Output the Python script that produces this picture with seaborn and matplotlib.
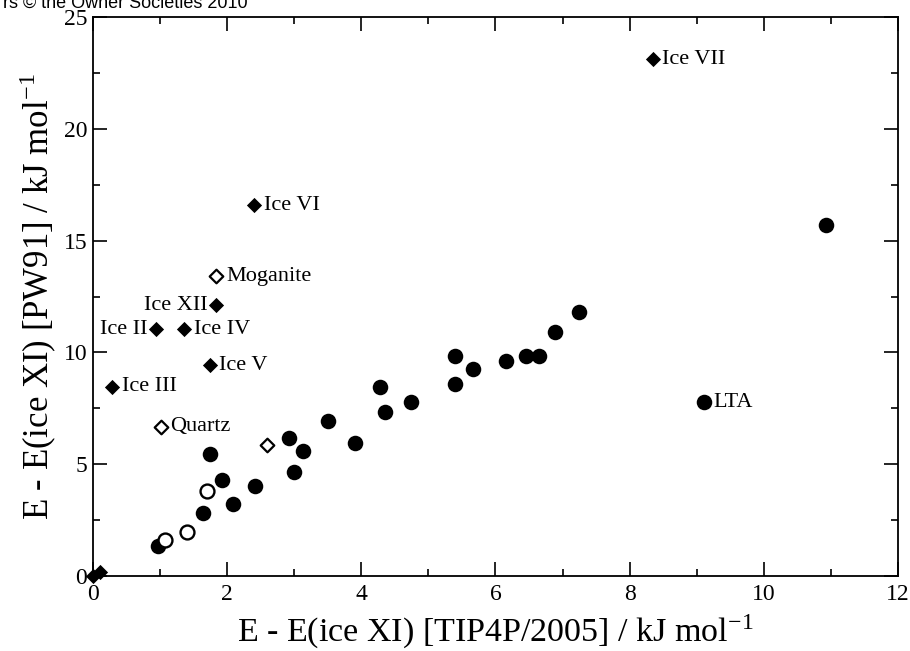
import pandas as pd
import seaborn as sns
import matplotlib
matplotlib.use("Agg")
from matplotlib import pyplot as plt
from matplotlib.ticker import MultipleLocator

# filled circles
circ_x = [0.97, 1.64, 1.74, 1.92, 2.09, 2.42, 2.93, 3.00, 3.13, 3.51, 3.91,
          4.28, 4.35, 4.74, 5.39, 5.39, 5.66, 6.16, 6.45, 6.65, 6.89, 7.25,
          9.10, 10.93]
circ_y = [1.36, 2.83, 5.46, 4.28, 3.23, 4.02, 6.16, 4.66, 5.59, 6.93, 5.96,
          8.47, 7.35, 7.78, 9.84, 8.60, 9.26, 9.63, 9.84, 9.84, 10.93, 11.79,
          7.78, 15.72]
# open circles
ocirc_x = [1.08, 1.41, 1.70]
ocirc_y = [1.61, 1.98, 3.80]
# filled diamonds (ice phases)
ice_x = [0.0, 0.10, 0.29, 0.94, 1.36, 1.74, 1.84, 2.40, 8.34]
ice_y = [0.0, 0.18, 8.46, 11.04, 11.04, 9.43, 12.12, 16.59, 23.1]
ice_names = ["", "", "Ice III", "Ice II", "Ice IV", "Ice V", "Ice XII",
             "Ice VI", "Ice VII"]
# open diamonds (silica)
sil_x = [1.84, 1.01, 2.60]
sil_y = [13.4, 6.67, 5.86]
sil_names = ["Moganite", "Quartz", ""]

plt.rcParams['font.family'] = ['Liberation Serif', 'DejaVu Serif']
plt.rcParams['mathtext.fontset'] = 'stix'

fig = plt.figure(figsize=(9.1, 6.51), dpi=100)
ax = fig.add_axes([0.102, 0.115, 0.885, 0.859])

sns.scatterplot(x=circ_x, y=circ_y, ax=ax, marker='o', s=125,
                color='black', edgecolor='black', linewidth=0, zorder=3)
sns.scatterplot(x=ocirc_x, y=ocirc_y, ax=ax, marker='o', s=100,
                facecolor='white', edgecolor='black', linewidth=1.7, zorder=3)
sns.scatterplot(x=ice_x, y=ice_y, ax=ax, marker='D', s=60,
                color='black', edgecolor='black', linewidth=0, zorder=3,
                clip_on=False)
sns.scatterplot(x=sil_x, y=sil_y, ax=ax, marker='D', s=48,
                facecolor='white', edgecolor='black', linewidth=1.6, zorder=3)

# labels to the right unless noted
left_labels = {"Ice II", "Ice XII"}
for x, y, name in zip(ice_x + sil_x, ice_y + sil_y, ice_names + sil_names):
    if not name:
        continue
    if name in left_labels:
        ax.annotate(name, (x, y), xytext=(-6, 0), textcoords='offset points',
                    ha='right', va='center', fontsize=16)
    else:
        ax.annotate(name, (x, y), xytext=(7, 0), textcoords='offset points',
                    ha='left', va='center', fontsize=16)
ax.annotate("LTA", (circ_x[-2], circ_y[-2]), xytext=(7, 0),
            textcoords='offset points', ha='left', va='center', fontsize=16)

ax.set_xlim(0, 12)
ax.set_ylim(0, 25)
ax.xaxis.set_major_locator(MultipleLocator(2))
ax.xaxis.set_minor_locator(MultipleLocator(1))
ax.yaxis.set_major_locator(MultipleLocator(5))
ax.yaxis.set_minor_locator(MultipleLocator(2.5))
ax.tick_params(which='both', direction='in', top=True, right=True,
               width=1.2, labelsize=17)
ax.tick_params(axis='x', which='both', pad=6)
ax.tick_params(axis='y', which='both', pad=4)
ax.tick_params(which='major', length=10)
ax.tick_params(which='minor', length=5)
for sp in ax.spines.values():
    sp.set_linewidth(1.3)

ax.set_xlabel(r"E - E(ice XI) [TIP4P/2005] / kJ mol$^{\mathregular{-1}}$",
              fontsize=24.5, labelpad=5)
ax.set_ylabel(r"E - E(ice XI) [PW91] / kJ mol$^{\mathregular{-1}}$",
              fontsize=25, labelpad=4)

fig.text(0.003, 1.0 - 8 / 651, "rs \u00a9 the Owner Societies 2010",
         family='Liberation Sans', fontsize=13, ha='left', va='baseline')

fig.savefig("out.png", dpi=100)
